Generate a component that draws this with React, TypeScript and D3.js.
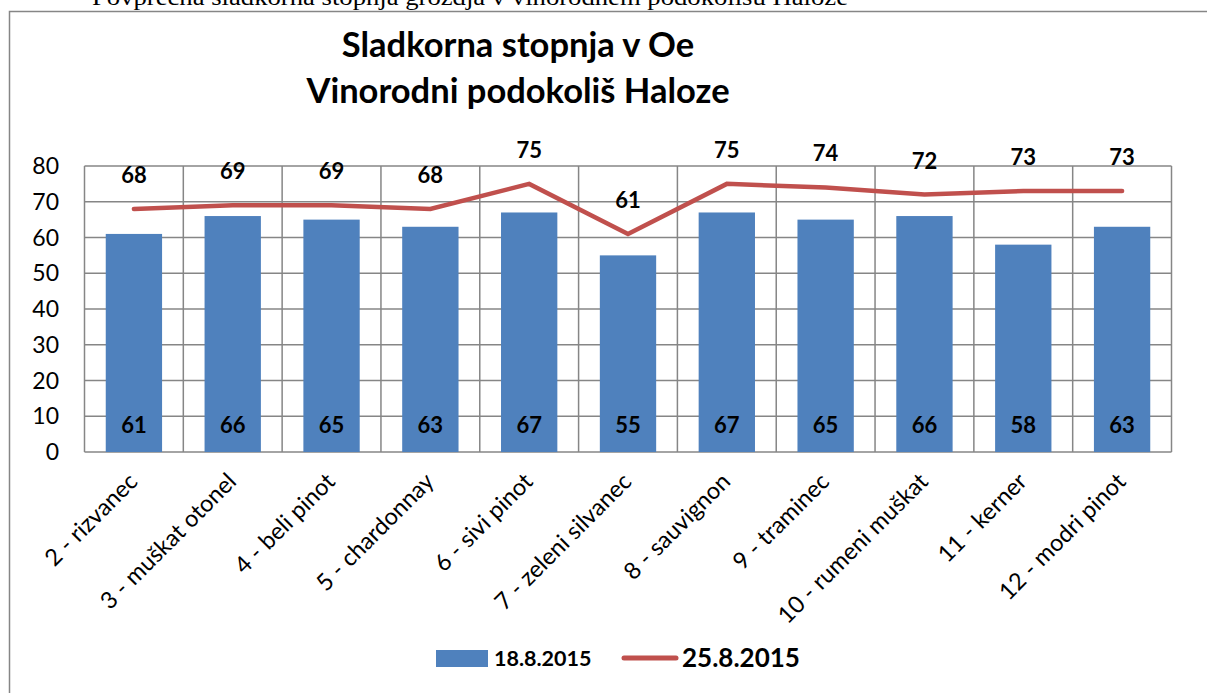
import React from "react";
import * as d3 from "d3";

const categories = [
  "2 - rizvanec",
  "3 - muškat otonel",
  "4 - beli pinot",
  "5 - chardonnay",
  "6 - sivi pinot",
  "7 - zeleni silvanec",
  "8 - sauvignon",
  "9 - traminec",
  "10 - rumeni muškat",
  "11 - kerner",
  "12 - modri pinot",
];
const series1 = [61, 66, 65, 63, 67, 55, 67, 65, 66, 58, 63];
const series2 = [68, 69, 69, 68, 75, 61, 75, 74, 72, 73, 73];
const yTicks = [0, 10, 20, 30, 40, 50, 60, 70, 80];
const series1Name = "18.8.2015";
const series2Name = "25.8.2015";
const titleLines = ["Sladkorna stopnja v Oe", "Vinorodni podokoliš Haloze"];
const caption = "Povprečna sladkorna stopnja grozdja v vinorodnem podokolišu Haloze";

const W = 1207;
const H = 693;
const plot = { left: 84.5, right: 1171.5, top: 166, bottom: 452 };
const FONT = "Lato, 'Open Sans', sans-serif";

export default function App() {
  const x = d3
    .scaleBand<string>()
    .domain(categories)
    .range([plot.left, plot.right])
    .paddingInner(0)
    .paddingOuter(0);
  const y = d3.scaleLinear().domain([0, 80]).range([plot.bottom, plot.top]);
  const bw = x.bandwidth();
  const barW = bw * 0.57;
  const cx = (c: string) => (x(c) as number) + bw / 2;

  const line = d3
    .line<number>()
    .x((_, i) => cx(categories[i]))
    .y((d) => y(d));

  const grid = "#868686";

  return (
    <svg
      width={W}
      height={H}
      style={{ position: "absolute", left: 0, top: 0, background: "#fff" }}
    >
      <text
        x={92}
        y={5}
        fontFamily="'Liberation Serif', serif"
        fontSize={24}
        textLength={756}
        lengthAdjust="spacingAndGlyphs"
        fill="#000"
      >
        {caption}
      </text>
      <rect x={9.5} y={11.5} width={1220} height={700} fill="#fff" stroke={grid} strokeWidth={1.5} />

      {titleLines.map((t, i) => (
        <text
          key={t}
          x={518}
          y={57 + i * 46}
          textAnchor="middle"
          fontFamily={FONT}
          fontWeight={700}
          fontSize={34.5}
          fill="#000"
        >
          {t}
        </text>
      ))}

      {/* horizontal gridlines */}
      {yTicks.map((t) => (
        <line key={t} x1={plot.left} x2={plot.right} y1={y(t)} y2={y(t)} stroke={grid} strokeWidth={1.5} />
      ))}
      {/* vertical gridlines */}
      {categories.map((c) => (
        <line key={c} x1={x(c)} x2={x(c)} y1={plot.top} y2={plot.bottom} stroke={grid} strokeWidth={1.5} />
      ))}
      <line x1={plot.right} x2={plot.right} y1={plot.top} y2={plot.bottom} stroke={grid} strokeWidth={1.5} />

      {/* y tick labels */}
      {yTicks.map((t) => (
        <text
          key={t}
          x={59}
          y={y(t) + 8}
          textAnchor="end"
          fontFamily={FONT}
          fontSize={23}
          fill="#000"
        >
          {t}
        </text>
      ))}

      {/* bars */}
      {series1.map((v, i) => (
        <rect
          key={i}
          x={cx(categories[i]) - barW / 2}
          y={y(v)}
          width={barW}
          height={y(0) - y(v)}
          fill="#4F81BD"
        />
      ))}
      {series1.map((v, i) => (
        <text
          key={i}
          x={cx(categories[i])}
          y={433}
          textAnchor="middle"
          fontFamily={FONT}
          fontWeight={700}
          fontSize={22}
          fill="#000"
        >
          {v}
        </text>
      ))}

      {/* line */}
      <path d={line(series2) || ""} fill="none" stroke="#C0504D" strokeWidth={4.5} strokeLinecap="round" strokeLinejoin="miter" />
      {series2.map((v, i) => (
        <text
          key={i}
          x={cx(categories[i])}
          y={y(v) - 26}
          textAnchor="middle"
          fontFamily={FONT}
          fontWeight={700}
          fontSize={22}
          fill="#000"
        >
          {v}
        </text>
      ))}

      {/* x labels */}
      {categories.map((c) => (
        <text
          key={c}
          transform={`translate(${cx(c) + 5},${483}) rotate(-45)`}
          textAnchor="end"
          fontFamily={FONT}
          fontSize={23.5}
          fill="#000"
        >
          {c}
        </text>
      ))}

      {/* legend */}
      <rect x={436} y={650} width={52} height={17} fill="#4F81BD" />
      <text x={494} y={666} fontFamily={FONT} fontWeight={700} fontSize={21.5} fill="#000">
        {series1Name}
      </text>
      <line x1={624} x2={676} y1={658} y2={658} stroke="#C0504D" strokeWidth={5} strokeLinecap="round" />
      <text x={682} y={667} fontFamily={FONT} fontWeight={700} fontSize={26} fill="#000">
        {series2Name}
      </text>
    </svg>
  );
}
